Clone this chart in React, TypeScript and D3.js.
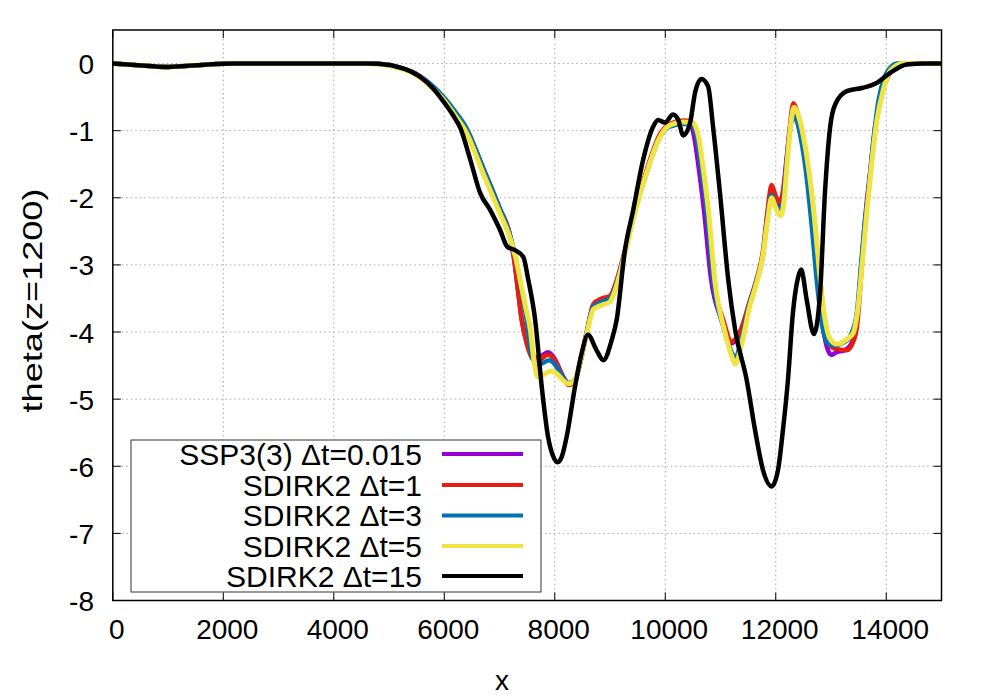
import React from "react";
import * as d3 from "d3";

type Pt = [number, number];

const X_TICKS = [0, 2000, 4000, 6000, 8000, 10000, 12000, 14000];
const Y_TICKS = [0, -1, -2, -3, -4, -5, -6, -7, -8];

const SERIES_NAMES = ["SSP3(3) Δt=0.015", "SDIRK2 Δt=1", "SDIRK2 Δt=3", "SDIRK2 Δt=5", "SDIRK2 Δt=15"];
const SERIES_COLORS = ["#9400D3", "#E51E10", "#0072B2", "#F0E442", "#000000"];

const ssp3: Pt[] = [
  [0, 0], [400, -0.02], [1000, -0.05], [1600, -0.02], [2200, 0], [4600, 0], [5000, -0.02], [5200, -0.06], [5400, -0.12],
  [5565, -0.19], [5800, -0.35], [6000, -0.52], [6200, -0.74], [6400, -0.97], [6700, -1.55], [7000, -2.15], [7200, -2.6],
  [7270, -2.95], [7330, -3.35],
  [7400, -3.8], [7500, -4.17], [7600, -4.36], [7700, -4.38], [7880, -4.3], [8000, -4.4], [8150, -4.66], [8250, -4.77],
  [8370, -4.72], [8460, -4.46], [8580, -4.0], [8700, -3.6], [8850, -3.52], [9000, -3.48], [9100, -3.3], [9250, -2.86],
  [9450, -2.2], [9665, -1.6], [9900, -1.08], [10080, -0.92], [10300, -0.87], [10440, -0.88], [10520, -1.08],
  [10610, -1.58], [10700, -2.18], [10830, -3.22], [11030, -3.84], [11190, -4.17], [11360, -4.0], [11535, -3.55],
  [11650, -3.25], [11770, -2.82], [11850, -2.25], [11925, -1.9], [11990, -2.02], [12065, -2.12], [12130, -1.95],
  [12200, -1.4], [12270, -0.9], [12320, -0.8], [12380, -0.85], [12450, -1.05], [12560, -1.6], [12670, -2.4],
  [12760, -3.2], [12850, -3.9], [12950, -4.28], [13010, -4.34], [13100, -4.3], [13250, -4.27], [13380, -4.15],
  [13460, -3.9], [13550, -3.0], [13630, -2.2], [13710, -1.6], [13800, -0.94], [13920, -0.44], [14060, -0.14],
  [14250, -0.01], [14500, 0], [15000, 0],
];

const sdirk1: Pt[] = [
  [0, 0], [400, -0.02], [1000, -0.05], [1600, -0.02], [2200, 0], [4600, 0], [5000, -0.02], [5200, -0.06], [5400, -0.12],
  [5565, -0.19], [5800, -0.36], [6000, -0.53], [6200, -0.75], [6400, -0.98], [6700, -1.56], [7000, -2.16], [7200, -2.6],
  [7270, -2.95], [7330, -3.35],
  [7400, -3.82], [7500, -4.2], [7600, -4.4], [7700, -4.42], [7880, -4.34], [8000, -4.42], [8150, -4.67], [8250, -4.79],
  [8370, -4.72], [8460, -4.46], [8580, -4.0], [8700, -3.58], [8850, -3.5], [9000, -3.46], [9100, -3.28], [9250, -2.85],
  [9450, -2.18], [9665, -1.58], [9900, -1.06], [10080, -0.9], [10320, -0.85], [10480, -0.87], [10570, -1.08],
  [10660, -1.58], [10750, -2.18], [10865, -3.22], [11050, -3.82], [11200, -4.14], [11365, -3.97], [11535, -3.52],
  [11650, -3.22], [11770, -2.78], [11850, -2.2], [11925, -1.81], [11990, -1.95], [12065, -2.07], [12130, -1.9],
  [12195, -1.43], [12255, -0.94], [12320, -0.59], [12380, -0.7], [12490, -1.13], [12560, -1.43], [12680, -2.18],
  [12770, -2.93], [12860, -3.67], [12950, -4.12], [13040, -4.24], [13285, -4.27], [13400, -4.15], [13470, -3.92],
  [13560, -3.0], [13640, -2.2], [13715, -1.6], [13805, -0.94], [13925, -0.44], [14065, -0.14], [14250, -0.01],
  [14500, 0], [15000, 0],
];

const sdirk3: Pt[] = [
  [0, 0], [400, -0.02], [1000, -0.05], [1600, -0.02], [2200, 0], [4600, 0], [5000, -0.02], [5200, -0.06], [5400, -0.12],
  [5565, -0.19], [5800, -0.34], [6000, -0.51], [6200, -0.72], [6400, -0.96], [6700, -1.55], [7000, -2.15], [7200, -2.58],
  [7300, -2.93], [7380, -3.3],
  [7490, -3.82], [7580, -4.35], [7695, -4.49], [7900, -4.42], [8000, -4.48], [8150, -4.68], [8250, -4.76],
  [8370, -4.7], [8460, -4.45], [8580, -4.0], [8700, -3.62], [8850, -3.55], [9000, -3.5], [9100, -3.32], [9250, -2.88],
  [9450, -2.2], [9665, -1.62], [9900, -1.1], [10080, -0.94], [10320, -0.9], [10480, -0.9], [10570, -1.1],
  [10660, -1.6], [10750, -2.2], [10870, -3.25], [11060, -3.95], [11200, -4.3], [11265, -4.39], [11380, -4.1],
  [11535, -3.55], [11650, -3.25], [11770, -2.85], [11850, -2.3], [11925, -1.96], [11990, -2.1], [12070, -2.2],
  [12140, -2.0], [12200, -1.45], [12265, -0.95], [12320, -0.75], [12380, -0.85], [12450, -1.1], [12560, -1.7],
  [12660, -2.5], [12750, -3.3], [12850, -3.95], [12950, -4.17], [13040, -4.2], [13250, -4.15], [13380, -4.0],
  [13470, -3.7], [13550, -2.93], [13620, -2.3], [13675, -1.93], [13760, -1.2], [13860, -0.55], [13980, -0.18],
  [14100, -0.04], [14190, 0], [15000, 0],
];

const sdirk5: Pt[] = [
  [0, 0], [400, -0.02], [1000, -0.05], [1600, -0.02], [2200, 0], [4600, 0], [5000, -0.03], [5200, -0.07], [5400, -0.13],
  [5565, -0.21], [5800, -0.38], [6000, -0.55], [6200, -0.78], [6400, -1.03], [6700, -1.63], [7000, -2.22], [7200, -2.62],
  [7300, -2.92],
  [7380, -3.25], [7470, -3.62], [7555, -3.95], [7620, -4.4], [7695, -4.67], [7940, -4.58], [8050, -4.63],
  [8150, -4.72], [8250, -4.77], [8370, -4.7], [8460, -4.45], [8580, -4.02], [8700, -3.66], [8850, -3.6],
  [9000, -3.55], [9100, -3.36], [9250, -2.9], [9450, -2.22], [9665, -1.62], [9900, -1.1], [10080, -0.92],
  [10320, -0.87], [10500, -0.88], [10600, -1.08], [10690, -1.58], [10780, -2.18], [10900, -3.25], [11080, -4.0],
  [11220, -4.4], [11265, -4.48], [11390, -4.15], [11535, -3.6], [11650, -3.28], [11770, -2.85], [11850, -2.35],
  [11925, -2.0], [12000, -2.15], [12085, -2.27], [12150, -2.05], [12210, -1.45], [12280, -0.85], [12330, -0.65],
  [12400, -0.75], [12480, -1.0], [12600, -1.6], [12700, -2.3], [12790, -3.1], [12880, -3.75], [12980, -4.1],
  [13100, -4.18], [13300, -4.1], [13400, -4.02], [13480, -3.7], [13570, -2.93], [13650, -2.2], [13735, -1.5],
  [13830, -0.85], [13950, -0.38], [14080, -0.1], [14300, 0], [15000, 0],
];

const sdirk15: Pt[] = [
  [0, 0], [400, -0.02], [1000, -0.05], [1600, -0.02], [2200, 0], [4600, 0], [5000, -0.02], [5200, -0.06], [5400, -0.12],
  [5565, -0.2], [5800, -0.37],
  [5980, -0.56], [6150, -0.76], [6290, -0.96], [6470, -1.43], [6650, -1.93], [6830, -2.18], [7010, -2.48],
  [7140, -2.73], [7280, -2.78], [7430, -2.88], [7520, -3.22], [7645, -3.82], [7765, -4.82], [7880, -5.57],
  [7970, -5.85], [8050, -5.94], [8130, -5.85], [8215, -5.56], [8365, -4.82], [8485, -4.32], [8600, -4.04],
  [8755, -4.27], [8880, -4.42], [9030, -4.12], [9120, -3.82], [9270, -2.78], [9420, -2.18], [9600, -1.43],
  [9780, -0.94], [9870, -0.84], [9995, -0.88], [10140, -0.76], [10235, -0.84], [10325, -1.07], [10450, -0.88],
  [10540, -0.43], [10655, -0.23], [10775, -0.34], [10865, -0.94], [10990, -1.93], [11140, -3.22], [11265, -3.97],
  [11475, -4.72], [11625, -5.46], [11770, -6.06], [11925, -6.3], [12040, -6.06], [12130, -5.46], [12220, -4.72],
  [12310, -3.72], [12400, -3.2], [12460, -3.07], [12560, -3.52], [12690, -4.03], [12800, -3.45], [12890, -1.93],
  [12985, -0.94], [13075, -0.61], [13285, -0.41], [13580, -0.36], [13825, -0.29], [14070, -0.14], [14370, -0.015],
  [14700, 0], [15000, 0],
];

const SERIES_DATA: Pt[][] = [ssp3, sdirk1, sdirk3, sdirk5, sdirk15];

const W = 997;
const H = 698;
const L = 112.8;
const R = 941.5;
const T = 30;
const B = 600.5;

export default function App() {
  const x = d3.scaleLinear().domain([0, 15000]).range([L, R]);
  const y = d3.scaleLinear().domain([-8, 0.5]).range([B, T]);
  const line = d3
    .line<Pt>()
    .x((d) => x(d[0]))
    .y((d) => y(d[1]))
    .curve(d3.curveMonotoneX);

  const font = "Liberation Sans, Arial, Helvetica, sans-serif";
  const tickLen = 8;
  const legX0 = 131, legY0 = 440, legX1 = 541, legY1 = 592;
  const rowY = [454, 485, 515.5, 546, 576];

  return (
    <svg
      width={W}
      height={H}
      style={{ position: "absolute", left: 0, top: 0, background: "#fff" }}
      fontFamily={font}
    >
      <rect x={0} y={0} width={W} height={H} fill="#fff" />
      <defs>
        <clipPath id="plotclip">
          <rect x={L} y={T} width={R - L} height={B - T} />
        </clipPath>
      </defs>
      {/* grid */}
      <g stroke="#a8a8a8" strokeWidth={1} strokeDasharray="1.5,3">
        {X_TICKS.filter((v) => v > 0).map((v) => (
          <line key={"gx" + v} x1={x(v)} x2={x(v)} y1={T} y2={B} />
        ))}
        {Y_TICKS.filter((v) => v > -8).map((v) => (
          <line key={"gy" + v} x1={L} x2={R} y1={y(v)} y2={y(v)} />
        ))}
      </g>
      {/* ticks */}
      <g stroke="#000" strokeWidth={1}>
        {X_TICKS.map((v) => (
          <g key={"tx" + v}>
            <line x1={x(v)} x2={x(v)} y1={B} y2={B - tickLen} />
            <line x1={x(v)} x2={x(v)} y1={T} y2={T + tickLen} />
          </g>
        ))}
        {Y_TICKS.map((v) => (
          <g key={"ty" + v}>
            <line x1={L} x2={L + tickLen} y1={y(v)} y2={y(v)} />
            <line x1={R} x2={R - tickLen} y1={y(v)} y2={y(v)} />
          </g>
        ))}
      </g>
      {/* curves */}
      <g clipPath="url(#plotclip)" fill="none" strokeLinejoin="round" strokeLinecap="round">
        {SERIES_DATA.map((s, i) => (
          <path key={"s" + i} d={line(s) || ""} stroke={SERIES_COLORS[i]} strokeWidth={i === 3 ? 5 : 4.5} />
        ))}
      </g>
      {/* legend */}
      <rect x={legX0} y={legY0} width={legX1 - legX0} height={legY1 - legY0} fill="#fff" stroke="#333" strokeWidth={1} />
      {SERIES_NAMES.map((n, i) => (
        <g key={"lg" + i}>
          <text x={422} y={rowY[i] + 10.5} fontSize={30} textAnchor="end" fill="#000">
            {n}
          </text>
          <line x1={442} x2={523} y1={rowY[i]} y2={rowY[i]} stroke={SERIES_COLORS[i]} strokeWidth={4} />
        </g>
      ))}
      {/* border */}
      <rect x={L} y={T} width={R - L} height={B - T} fill="none" stroke="#000" strokeWidth={1.5} />
      {/* tick labels */}
      {X_TICKS.map((v) => (
        <text key={"lx" + v} x={x(v) + 4} y={639} fontSize={28} textAnchor="middle" fill="#000">
          {v}
        </text>
      ))}
      {Y_TICKS.map((v) => (
        <text key={"ly" + v} x={94} y={y(v) + 10.5} fontSize={28} textAnchor="end" fill="#000">
          {v}
        </text>
      ))}
      <text x={502} y={690} fontSize={28} textAnchor="middle" fill="#000">
        x
      </text>
      <text
        transform={`translate(42,300.5) rotate(-90)`}
        fontSize={28}
        textAnchor="middle"
        textLength={224}
        lengthAdjust="spacingAndGlyphs"
        fill="#000"
      >
        theta(z=1200)
      </text>
    </svg>
  );
}
